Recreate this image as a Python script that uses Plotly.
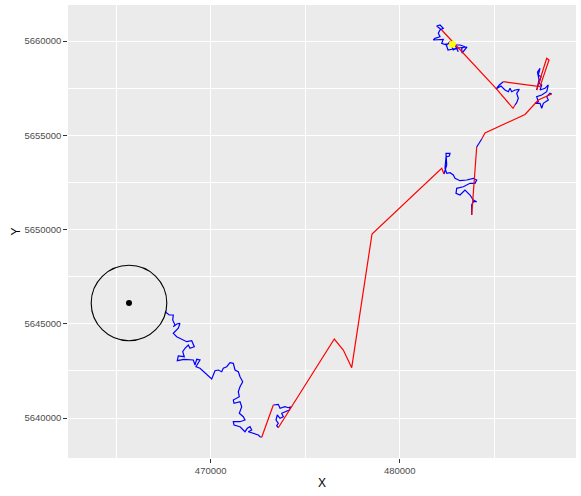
import plotly.graph_objects as go

# GPS fixes (UTM easting / northing), in time order
track_x = [
    # first leg, heading south-east from the release area
    467582, 467810, 468022, 467990, 468111, 468022, 468201, 468376, 468286, 468022,
    468201, 468730, 468995, 469132, 468905, 468815, 468640, 468519, 468603, 468286,
    468233, 468588, 469080, 469169, 469259, 469434, 469344, 469222, 469434, 470053,
    470138, 470227, 470402, 470582, 470667, 470846, 471021, 471196, 471285, 471460,
    471550, 471693, 471550, 471460, 471513, 471196, 471233, 471550, 471640, 471513,
    471725, 471814, 471550, 471196, 471233, 471550, 471814, 471936, 472079, 472169,
    471989, 472254, 472518, 472608, 472698,
    # small cluster
    473312, 473576, 473666, 473930, 474105, 474232, 474158, 473930, 473756, 473841,
    473666, 473523, 473454, 473576, 473491, 473576,
    # sparse fixes north-east
    476538, 477015, 477459, 478533, 482220, 482342,
    # middle cluster
    482484, 482447, 482659, 482622, 482447, 482394, 482484, 482659, 482834, 482923,
    483188, 483542, 483892, 484071, 483981, 483717, 483363, 483013, 482976, 483188,
    483452, 483717, 483807, 483892, 484071, 483892, 483807, 483807,
    484071, 484246, 484336,
    484510, 486626, 487066, 487330, 488039,
    # eastern cluster
    487949, 487774, 487859, 487595, 487510, 487420, 487155, 487330, 487245, 487510,
    487774, 487859, 487684, 487420, 487510, 487367, 487473, 487330, 487420, 487288,
    487367, 487245,
    487774, 487896, 487420, 485479,
    # cluster west of the eastern one
    485267, 485092, 485357, 485568, 485743, 485833, 485923, 486097, 486325, 486187,
    486272, 486187, 486097,
    485992, 485092, 482220,
    # northern cluster, last fix at the end
    481955, 482130, 482305, 482130, 482040, 482130, 481865, 481776, 482040, 482305,
    482220, 482484, 482659, 482749, 482834, 483013, 483098, 482923, 483188, 483452,
    483278, 483294, 483558, 483082, 482553, 482447, 482834, 482781,
]
track_y = [
    5645639, 5645464, 5645464, 5645199, 5644934, 5644843, 5644987, 5645024, 5644759, 5644493,
    5644313, 5644048, 5644101, 5643782, 5643698, 5643873, 5643698, 5643517, 5643252, 5643289,
    5643040, 5643114, 5643077, 5642812, 5643114, 5643077, 5642902, 5642721, 5642637, 5642069,
    5642281, 5642509, 5642546, 5642456, 5642637, 5642721, 5642934, 5642902, 5642546, 5642456,
    5642191, 5641926, 5641660, 5641395, 5641130, 5640955, 5640780, 5640865, 5640599, 5640249,
    5640069, 5639894, 5639804, 5639804, 5639629, 5639538, 5639273, 5639454, 5639538, 5639363,
    5639273, 5639188, 5639098, 5639008, 5638976,
    5640690, 5640727, 5640515, 5640599, 5640546, 5640599, 5640424, 5640334, 5640249, 5640069,
    5639984, 5640159, 5639894, 5639719, 5639592, 5639485,
    5644191, 5643607, 5642668, 5649761, 5653247, 5652944,
    5653422, 5654042, 5654042, 5653899, 5653846, 5653247, 5652981, 5653013, 5652891, 5652716,
    5652589, 5652626, 5652716, 5652626, 5652451, 5652451, 5652270, 5652185, 5651920, 5651830,
    5652095, 5651830, 5651655, 5651565, 5651475, 5651475, 5651300, 5650769,
    5654377, 5654658, 5654801,
    5655119, 5656101, 5656605, 5656870, 5657188,
    5657225, 5657045, 5656870, 5656695, 5656430, 5656695, 5656695, 5656780, 5657045, 5657135,
    5657310, 5657666, 5657490, 5657400, 5657666, 5657756, 5658106, 5658196, 5658552, 5658355,
    5657931, 5657400,
    5659082, 5658992, 5657576, 5657841,
    5657666, 5657453, 5657613, 5657400, 5657310, 5657490, 5657310, 5657400, 5657438, 5657225,
    5656960, 5656727, 5656605,
    5656430, 5657490, 5660583,
    5660796, 5660849, 5660674, 5660583, 5660409, 5660228, 5660143, 5660053, 5660053, 5660090,
    5659878, 5659788, 5659963, 5659697, 5659522, 5659612, 5659432, 5659788, 5659788, 5659697,
    5659612, 5659363, 5659682, 5659629, 5659522, 5659841, 5659878, 5659825,
]
# 1 where the step into this fix follows a long gap in the fix schedule
long_gap = (
    [0] * 65
    + [1] + [0] * 15
    + [1] * 6
    + [0] * 28
    + [1, 0, 0]
    + [1] * 5
    + [0] * 22
    + [1] * 4
    + [0] * 13
    + [1] * 3
    + [0] * 28
)

# capture site and its 2 km buffer
capture_x = 465678
capture_y = 5646101
buffer_radius = 2000

x_range = [462451, 489324]
y_range = [5637878, 5661910]
x_major = [470000, 480000]
x_minor = [465000, 475000, 485000]
y_major = [5640000, 5645000, 5650000, 5655000, 5660000]
y_minor = [5642500, 5647500, 5652500, 5657500]


def segments(flag):
    xs, ys = [], []
    prev_match = False
    for i in range(1, len(track_x)):
        if long_gap[i] == flag:
            if not prev_match:
                if xs:
                    xs.append(None)
                    ys.append(None)
                xs.append(track_x[i - 1])
                ys.append(track_y[i - 1])
            xs.append(track_x[i])
            ys.append(track_y[i])
            prev_match = True
        else:
            prev_match = False
    return xs, ys


fig = go.Figure()

bx, by = segments(0)
fig.add_trace(go.Scatter(x=bx, y=by, mode="lines",
                         line=dict(color="#0000FF", width=1.2), hoverinfo="skip"))
rx, ry = segments(1)
fig.add_trace(go.Scatter(x=rx, y=ry, mode="lines",
                         line=dict(color="#FF0000", width=1.2), hoverinfo="skip"))

fig.add_trace(go.Scatter(x=[capture_x], y=[capture_y], mode="markers",
                         marker=dict(color="black", size=6)))
fig.add_trace(go.Scatter(x=[track_x[-1]], y=[track_y[-1]], mode="markers",
                         marker=dict(color="#FFFF00", size=7)))

fig.add_shape(type="circle", xref="x", yref="y",
              x0=capture_x - buffer_radius, x1=capture_x + buffer_radius,
              y0=capture_y - buffer_radius, y1=capture_y + buffer_radius,
              line=dict(color="black", width=1.1), layer="above")

axis_common = dict(
    showgrid=True, gridcolor="white", gridwidth=1.1,
    ticks="outside", ticklen=3.7, tickwidth=1, tickcolor="#333333",
    tickfont=dict(size=9.5, color="#4D4D4D"),
    zeroline=False, showline=False, automargin=False,
)

fig.update_xaxes(
    range=x_range, tickvals=x_major, ticktext=[str(v) for v in x_major],
    minor=dict(tickvals=x_minor, showgrid=True, gridcolor="white",
               gridwidth=0.55, ticks=""),
    title=dict(text="X", font=dict(size=12, color="black"), standoff=3),
    **axis_common,
)
fig.update_yaxes(
    range=y_range, tickvals=y_major, ticktext=[str(v) for v in y_major],
    minor=dict(tickvals=y_minor, showgrid=True, gridcolor="white",
               gridwidth=0.55, ticks=""),
    title=dict(text="Y", font=dict(size=12, color="black"), standoff=1),
    **axis_common,
)

fig.update_layout(
    width=581, height=496,
    margin=dict(l=68, r=5, t=5, b=38),
    paper_bgcolor="white", plot_bgcolor="#EBEBEB",
    showlegend=False,
    font=dict(family="Liberation Sans, Arial, sans-serif"),
)

fig.write_html("out.html")
